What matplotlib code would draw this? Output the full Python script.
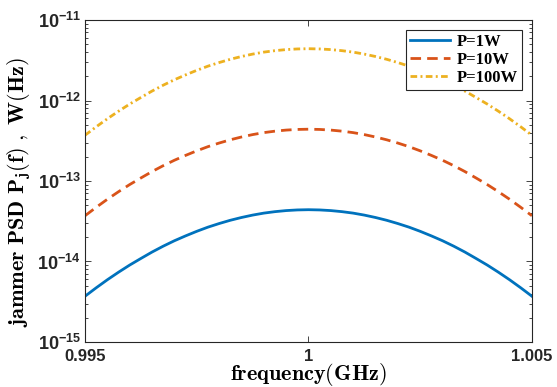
import math
import matplotlib
matplotlib.use('Agg')
import matplotlib.pyplot as plt
from matplotlib.ticker import FixedLocator, FuncFormatter, LogLocator, NullFormatter, NullLocator

# frequency grid (GHz) and jammer PSD for each jammer power, W/Hz
freq = [0.99500, 0.99525, 0.99550, 0.99575, 0.99600, 0.99625, 0.99650, 0.99675, 0.99700, 0.99725,
        0.99750, 0.99775, 0.99800, 0.99825, 0.99850, 0.99875, 0.99900, 0.99925, 0.99950, 0.99975,
        1.00000,
        1.00025, 1.00050, 1.00075, 1.00100, 1.00125, 1.00150, 1.00175, 1.00200, 1.00225, 1.00250,
        1.00275, 1.00300, 1.00325, 1.00350, 1.00375, 1.00400, 1.00425, 1.00450, 1.00475, 1.00500]
psd_1w = [3.70e-15, 4.71e-15, 5.93e-15, 7.36e-15, 9.03e-15, 1.09e-14, 1.31e-14, 1.55e-14, 1.81e-14, 2.08e-14,
          2.37e-14, 2.67e-14, 2.96e-14, 3.25e-14, 3.52e-14, 3.77e-14, 3.99e-14, 4.16e-14, 4.29e-14, 4.37e-14,
          4.40e-14,
          4.37e-14, 4.29e-14, 4.16e-14, 3.99e-14, 3.77e-14, 3.52e-14, 3.25e-14, 2.96e-14, 2.67e-14, 2.37e-14,
          2.08e-14, 1.81e-14, 1.55e-14, 1.31e-14, 1.09e-14, 9.03e-15, 7.36e-15, 5.93e-15, 4.71e-15, 3.70e-15]
psd_10w = [3.70e-14, 4.71e-14, 5.93e-14, 7.36e-14, 9.03e-14, 1.09e-13, 1.31e-13, 1.55e-13, 1.81e-13, 2.08e-13,
           2.37e-13, 2.67e-13, 2.96e-13, 3.25e-13, 3.52e-13, 3.77e-13, 3.99e-13, 4.16e-13, 4.29e-13, 4.37e-13,
           4.40e-13,
           4.37e-13, 4.29e-13, 4.16e-13, 3.99e-13, 3.77e-13, 3.52e-13, 3.25e-13, 2.96e-13, 2.67e-13, 2.37e-13,
           2.08e-13, 1.81e-13, 1.55e-13, 1.31e-13, 1.09e-13, 9.03e-14, 7.36e-14, 5.93e-14, 4.71e-14, 3.70e-14]
psd_100w = [3.70e-13, 4.71e-13, 5.93e-13, 7.36e-13, 9.03e-13, 1.09e-12, 1.31e-12, 1.55e-12, 1.81e-12, 2.08e-12,
            2.37e-12, 2.67e-12, 2.96e-12, 3.25e-12, 3.52e-12, 3.77e-12, 3.99e-12, 4.16e-12, 4.29e-12, 4.37e-12,
            4.40e-12,
            4.37e-12, 4.29e-12, 4.16e-12, 3.99e-12, 3.77e-12, 3.52e-12, 3.25e-12, 2.96e-12, 2.67e-12, 2.37e-12,
            2.08e-12, 1.81e-12, 1.55e-12, 1.31e-12, 1.09e-12, 9.03e-13, 7.36e-13, 5.93e-13, 4.71e-13, 3.70e-13]
labels = ['P=1W', 'P=10W', 'P=100W']

plt.rcParams['mathtext.fontset'] = 'custom'
plt.rcParams['mathtext.bf'] = 'Liberation Sans:bold'
plt.rcParams['mathtext.rm'] = 'Liberation Sans'
plt.rcParams['axes.unicode_minus'] = False

fig = plt.figure(figsize=(5.57, 3.87), dpi=100)
ax = fig.add_axes([0.1526, 0.1163, 0.8024, 0.832])

ax.plot(freq, psd_1w, color='#0072BD', lw=2, label=labels[0])
ax.plot(freq, psd_10w, color='#D95319', lw=2, ls=(0, (3.8, 2.2)), label=labels[1])
ax.plot(freq, psd_100w, color='#EDB120', lw=2, ls=(0, (2.4, 1.2, 0.7, 1.2)), label=labels[2])

ax.set_yscale('log')
ax.set_xlim(0.995, 1.005)
ax.set_ylim(1e-15, 1e-11)

ax.xaxis.set_major_locator(FixedLocator([0.995, 1.0, 1.005]))
ax.xaxis.set_minor_locator(NullLocator())
ax.set_xticklabels(['0.995', '1', '1.005'], fontfamily='Liberation Sans', fontweight='bold', fontsize=12)

ax.yaxis.set_major_locator(LogLocator(base=10, numticks=10))
ax.yaxis.set_minor_locator(LogLocator(base=10, subs=range(2, 10), numticks=20))
ax.yaxis.set_minor_formatter(NullFormatter())
ax.yaxis.set_major_formatter(FuncFormatter(lambda v, p: r'$\mathbf{10^{%d}}$' % round(math.log10(v))))
for t in ax.get_yticklabels():
    t.set_fontsize(13)

ax.tick_params(which='both', direction='in', top=True, right=True, colors='#262626', width=0.6)
ax.tick_params(axis='y', pad=3)
ax.tick_params(axis='x', pad=5)
ax.tick_params(which='major', length=4.5)
ax.tick_params(which='minor', length=2.5)
for s in ax.spines.values():
    s.set_color('#262626')
    s.set_linewidth(0.8)

ax.set_xlabel(r'$\mathbf{frequency(GHz)}$', fontsize=16, math_fontfamily='cm')
ax.set_ylabel(r'$\mathbf{jammer\ PSD\ P_j(f)\ ,\ W(Hz)}$', fontsize=16, math_fontfamily='cm')
ax.xaxis.set_label_coords(0.5, -0.06)
ax.yaxis.set_label_coords(-0.115, 0.465)

leg = ax.legend(loc='upper right', prop={'family': 'Liberation Serif', 'weight': 'bold', 'size': 12},
                fancybox=False, edgecolor='#262626', framealpha=1, handlelength=2.4,
                borderpad=0.25, labelspacing=0.1, handletextpad=0.4, borderaxespad=0.6)
leg.get_frame().set_linewidth(0.8)

fig.savefig('out.png', dpi=100)
